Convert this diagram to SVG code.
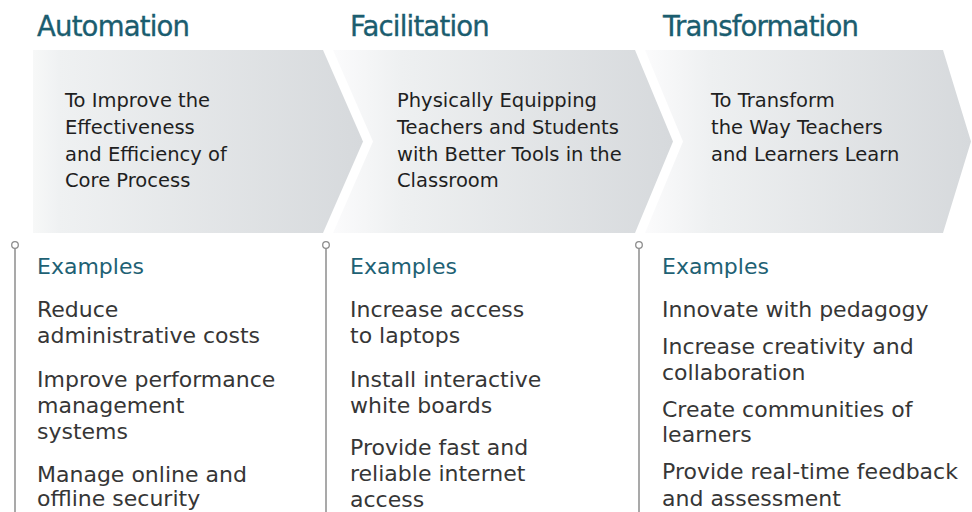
<svg xmlns="http://www.w3.org/2000/svg" width="972" height="512" viewBox="0 0 972 512">
  <style>
    .title { font-family: "DejaVu Sans", "Liberation Sans", sans-serif; font-size: 27.5px; letter-spacing: -0.8px; fill: #1b5d6f; stroke: #1b5d6f; stroke-width: 0.35px; }
    .desc { font-family: "DejaVu Sans", "Liberation Sans", sans-serif; font-size: 19.5px; fill: #1f1f1f; }
    .ex { font-family: "DejaVu Sans", "Liberation Sans", sans-serif; font-size: 22px; fill: #1e6174; }
    .item { font-family: "DejaVu Sans", "Liberation Sans", sans-serif; font-size: 22px; fill: #363636; }
    .rail { stroke: #8c8c8c; stroke-width: 1.5; fill: none; }
    .knob { stroke: #8c8c8c; stroke-width: 1.3; fill: #ffffff; }
  </style>
  <defs>
    <linearGradient id="g1" x1="0" y1="0" x2="1" y2="0">
      <stop offset="0" stop-color="#f7f8f8"/>
      <stop offset="0.08" stop-color="#eff1f2"/>
      <stop offset="1" stop-color="#d6d9dc"/>
    </linearGradient>
    <linearGradient id="g2" x1="0" y1="0" x2="1" y2="0">
      <stop offset="0" stop-color="#fbfbfc"/>
      <stop offset="0.2" stop-color="#eef0f1"/>
      <stop offset="1" stop-color="#d6d9dc"/>
    </linearGradient>
  </defs>
  <rect x="0" y="0" width="972" height="512" fill="#ffffff"/>

  <g id="automation">
    <polygon points="33,50 323,50 363,141.5 323,233 33,233" fill="url(#g1)"/>
    <text class="title" x="37" y="36">Automation</text>
    <text class="desc" x="65" y="107">To Improve the</text>
    <text class="desc" x="65" y="134">Effectiveness</text>
    <text class="desc" x="65" y="160.5">and Efficiency of</text>
    <text class="desc" x="65" y="187">Core Process</text>
    <text class="ex" x="37" y="274">Examples</text>
    <text class="item" x="37" y="317">Reduce</text>
    <text class="item" x="37" y="343">administrative costs</text>
    <text class="item" x="37" y="387">Improve performance</text>
    <text class="item" x="37" y="413">management</text>
    <text class="item" x="37" y="438.5">systems</text>
    <text class="item" x="37" y="482">Manage online and</text>
    <text class="item" x="37" y="506">offline security</text>
  </g>

  <g id="facilitation">
    <polygon points="333,50 635,50 673,141.5 635,233 333,233 373,141.5" fill="url(#g2)"/>
    <text class="title" x="350" y="36">Facilitation</text>
    <text class="desc" x="397" y="107">Physically Equipping</text>
    <text class="desc" x="397" y="134">Teachers and Students</text>
    <text class="desc" x="397" y="160.5">with Better Tools in the</text>
    <text class="desc" x="397" y="187">Classroom</text>
    <text class="ex" x="350" y="274">Examples</text>
    <text class="item" x="350" y="317">Increase access</text>
    <text class="item" x="350" y="343">to laptops</text>
    <text class="item" x="350" y="387">Install interactive</text>
    <text class="item" x="350" y="413">white boards</text>
    <text class="item" x="350" y="455">Provide fast and</text>
    <text class="item" x="350" y="481">reliable internet</text>
    <text class="item" x="350" y="507">access</text>
  </g>

  <g id="transformation">
    <polygon points="645,50 943,50 971,141.5 943,233 645,233 683,141.5" fill="url(#g2)"/>
    <text class="title" x="663" y="36">Transformation</text>
    <text class="desc" x="711" y="107">To Transform</text>
    <text class="desc" x="711" y="134">the Way Teachers</text>
    <text class="desc" x="711" y="160.5">and Learners Learn</text>
    <text class="ex" x="662" y="274">Examples</text>
    <text class="item" x="662" y="317">Innovate with pedagogy</text>
    <text class="item" x="662" y="354">Increase creativity and</text>
    <text class="item" x="662" y="380">collaboration</text>
    <text class="item" x="662" y="417">Create communities of</text>
    <text class="item" x="662" y="442">learners</text>
    <text class="item" x="662" y="479">Provide real-time feedback</text>
    <text class="item" x="662" y="506">and assessment</text>
  </g>

  <g id="connectors">
    <line class="rail" x1="15" y1="248.5" x2="15" y2="512"/>
    <circle class="knob" cx="15" cy="245" r="3.3"/>
    <line class="rail" x1="326" y1="248.5" x2="326" y2="512"/>
    <circle class="knob" cx="326" cy="245" r="3.3"/>
    <line class="rail" x1="639" y1="248.5" x2="639" y2="512"/>
    <circle class="knob" cx="639" cy="245" r="3.3"/>
  </g>
</svg>
